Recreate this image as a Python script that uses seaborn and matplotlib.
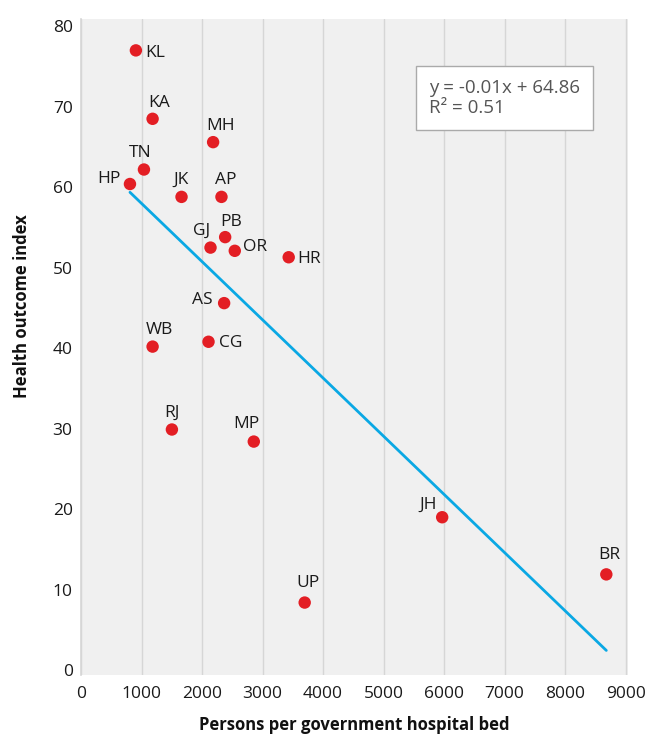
import matplotlib
matplotlib.use("Agg")
import matplotlib.pyplot as plt
import seaborn as sns
import pandas as pd

states = ["KL", "KA", "MH", "TN", "HP", "JK", "AP", "PB", "GJ", "OR",
          "HR", "AS", "WB", "CG", "RJ", "MP", "JH", "BR", "UP"]
persons_per_bed = [907, 1183, 2183, 1040, 809, 1661, 2321, 2382, 2140, 2541,
                   3432, 2365, 1183, 2107, 1502, 2855, 5968, 8680, 3696]
health_index = [77.0, 68.5, 65.6, 62.2, 60.4, 58.8, 58.8, 53.8, 52.5, 52.1,
                51.3, 45.6, 40.2, 40.8, 29.9, 28.4, 19.0, 11.9, 8.4]
x_ticks = [0, 1000, 2000, 3000, 4000, 5000, 6000, 7000, 8000, 9000]
y_ticks = [0, 10, 20, 30, 40, 50, 60, 70, 80]
equation_text = "y = -0.01x + 64.86\nR² = 0.51"

# label offsets in pixels (layout)
offsets = {
    "KL": (9, -3, "left"), "KA": (7, 16, "center"), "MH": (7, 16, "center"),
    "TN": (-4, 17, "center"), "HP": (-9, 5, "right"), "JK": (0, 17, "center"),
    "AP": (4, 17, "center"), "PB": (6, 15, "center"), "GJ": (-9, 17, "center"),
    "OR": (8, 4, "left"), "HR": (9, -2, "left"), "AS": (-12, 3, "right"),
    "WB": (7, 17, "center"), "CG": (10, -1, "left"), "RJ": (0, 17, "center"),
    "MP": (-7, 18, "center"), "JH": (-14, 12, "center"), "BR": (3, 19, "center"),
    "UP": (3, 20, "center"),
}

df = pd.DataFrame({"state": states, "x": persons_per_bed, "y": health_index})

sns.set_theme(style="white")
plt.rcParams["font.family"] = ["Open Sans", "DejaVu Sans"]

fig = plt.figure(figsize=(6.53, 7.36), dpi=100)
ax = fig.add_axes([81 / 653, 1 - 675 / 736, (627.5 - 81) / 653, (675 - 19) / 736])
ax.set_facecolor("#f0f0f0")

sns.regplot(data=df, x="x", y="y", ax=ax, ci=None, truncate=True,
            scatter=False, line_kws=dict(color="#0aa8e4", lw=2.0, zorder=2))
sns.scatterplot(data=df, x="x", y="y", ax=ax, color="#e31e24", s=80,
                edgecolor="none", zorder=3, legend=False)

for s, xv, yv in zip(states, persons_per_bed, health_index):
    dx, dy, ha = offsets[s]
    ax.annotate(s, (xv, yv), xytext=(dx, dy), textcoords="offset pixels",
                ha=ha, va="center", fontsize=12.5, color="#1a1a1a", zorder=4)

ax.set_xlim(0, 9030)
ax.set_ylim(-0.6, 80.9)
ax.set_xticks(x_ticks)
ax.set_yticks(y_ticks)
ax.set_xticklabels([str(v) for v in x_ticks], fontsize=12.5, color="#1a1a1a")
ax.set_yticklabels([str(v) for v in y_ticks], fontsize=12.5, color="#1a1a1a")
ax.tick_params(axis="x", length=0, pad=8)
ax.tick_params(axis="y", length=0, pad=6)

ax.grid(axis="x", color="#d6d6d6", lw=1.0)
ax.grid(axis="y", visible=False)
ax.set_axisbelow(True)
for side in ["top", "right", "bottom"]:
    ax.spines[side].set_visible(False)
ax.spines["left"].set_color("#d6d6d6")
ax.spines["left"].set_linewidth(1.2)

ax.set_xlabel("Persons per government hospital bed", fontsize=12,
              fontweight="bold", color="#111111")
ax.set_ylabel("Health outcome index", fontsize=12, fontweight="bold",
              color="#111111")
ax.xaxis.set_label_coords(0.5, (675 - 725) / 656, transform=ax.transAxes)
ax.xaxis.label.set_va("center")
ax.yaxis.set_label_coords((22 - 81) / 546.5, (675 - 306) / 656)
ax.yaxis.label.set_va("center")

ax.text((429 - 81) / 546.5, (675 - 98) / 656, equation_text,
        transform=ax.transAxes, fontsize=13.5, color="#555555",
        ha="left", va="center", linespacing=1.15,
        bbox=dict(boxstyle="square,pad=0.7", fc="white", ec="#aaaaaa", lw=1.0),
        zorder=5)

fig.savefig("out.png", dpi=100)
